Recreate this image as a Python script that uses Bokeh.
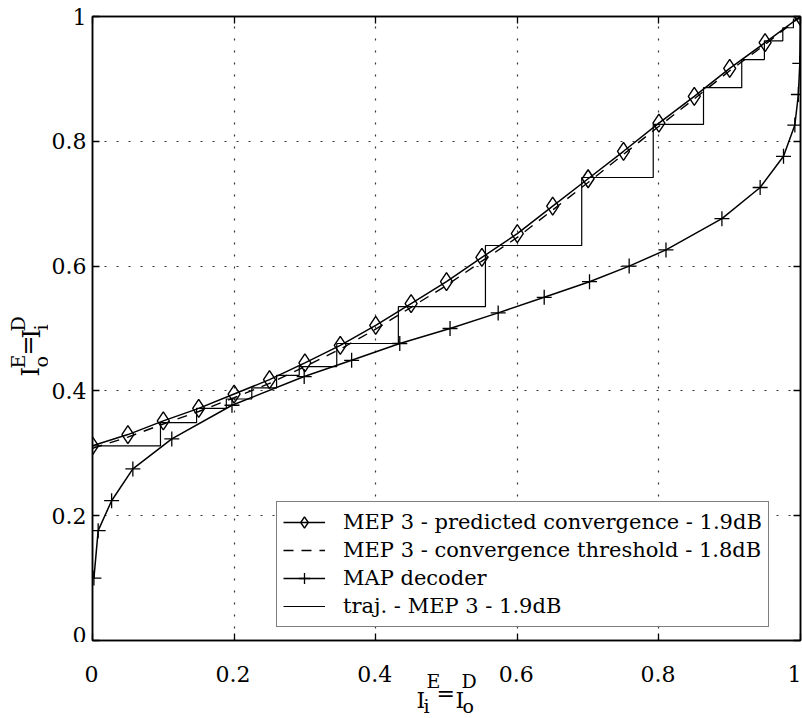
import math
from bokeh.plotting import figure
from bokeh.layouts import row, column
from bokeh.models import (Range1d, FixedTicker, LinearAxis, Legend, LegendItem,
                          CustomJSTickFormatter)
from bokeh.core.properties import value
from bokeh.embed import file_html
from bokeh.resources import INLINE

# ---------------- data ----------------
tick_values = [0, 0.2, 0.4, 0.6, 0.8, 1]
tick_labels = ["0", "0.2", "0.4", "0.6", "0.8", "1"]

# MEP 3 - predicted convergence - 1.9dB (diamonds)
mep_x = [0.0, 0.05, 0.1, 0.15, 0.2, 0.25, 0.3, 0.35, 0.4, 0.45, 0.5,
         0.55, 0.6, 0.65, 0.7, 0.75, 0.8, 0.85, 0.9, 0.95, 1.0]
mep_pred_y = [0.312, 0.330, 0.352, 0.372, 0.395, 0.418, 0.445, 0.473, 0.505, 0.540, 0.575,
              0.614, 0.652, 0.696, 0.740, 0.784, 0.829, 0.872, 0.917, 0.958, 1.0]
# MEP 3 - convergence threshold - 1.8dB (dashed)
mep_thr_y = [0.308, 0.326, 0.347, 0.367, 0.389, 0.412, 0.439, 0.467, 0.499, 0.534, 0.569,
             0.608, 0.646, 0.690, 0.734, 0.779, 0.824, 0.868, 0.913, 0.955, 1.0]

# MAP decoder (+)
map_x = [0.002, 0.008, 0.027, 0.057, 0.112, 0.197, 0.299, 0.366, 0.434, 0.505, 0.573,
         0.638, 0.702, 0.758, 0.810, 0.889, 0.943, 0.976, 0.992, 0.997, 0.999, 1.0]
map_y = [0.100, 0.176, 0.224, 0.275, 0.323, 0.377, 0.423, 0.449, 0.476, 0.500, 0.525,
         0.550, 0.575, 0.600, 0.626, 0.676, 0.726, 0.776, 0.826, 0.875, 0.925, 1.0]

# trajectory - MEP 3 - 1.9dB (staircase corners)
traj_x = [0.0, 0.096, 0.096, 0.147, 0.147, 0.189, 0.189, 0.225, 0.225, 0.26, 0.26,
          0.292, 0.292, 0.345, 0.345, 0.432, 0.432, 0.555, 0.555, 0.691, 0.691,
          0.792, 0.792, 0.863, 0.863, 0.917, 0.917, 0.949, 0.949, 0.975, 0.975,
          0.99, 0.99, 1.0]
traj_y = [0.312, 0.312, 0.349, 0.349, 0.372, 0.372, 0.387, 0.387, 0.405, 0.405, 0.425,
          0.425, 0.439, 0.439, 0.476, 0.476, 0.535, 0.535, 0.633, 0.633, 0.742,
          0.742, 0.827, 0.827, 0.886, 0.886, 0.931, 0.931, 0.961, 0.961, 0.982,
          0.982, 0.996, 0.996]

legend_labels = ["MEP 3 - predicted convergence - 1.9dB",
                 "MEP 3 - convergence threshold - 1.8dB",
                 "MAP decoder",
                 "traj. - MEP 3 - 1.9dB"]

FONT = "DejaVu Serif"

# ---------------- layout geometry (pixels) ----------------
FRAME_W, FRAME_H = 708, 624
YLAB_W = 48              # strip holding the rotated y label
MAIN_LEFT = 43           # room for y tick labels
MAIN_TOP, MAIN_RIGHT, MAIN_BOTTOM = 16, 3, 2
MAIN_H = MAIN_TOP + FRAME_H + MAIN_BOTTOM
TOTAL_W = YLAB_W + MAIN_LEFT + FRAME_W + MAIN_RIGHT
XLAB_H = 718 - MAIN_H
FRAME_LEFT_PX = YLAB_W + MAIN_LEFT

# ---------------- main figure ----------------
p = figure(frame_width=FRAME_W, frame_height=FRAME_H,
           x_range=Range1d(0, 1), y_range=Range1d(0, 1),
           output_backend="svg", toolbar_location=None,
           min_border_left=MAIN_LEFT, min_border_top=MAIN_TOP,
           min_border_right=MAIN_RIGHT, min_border_bottom=MAIN_BOTTOM)
p.background_fill_color = "white"
p.border_fill_color = "white"
p.outline_line_color = "black"
p.outline_line_width = 1.5

p.add_layout(LinearAxis(), "above")
p.add_layout(LinearAxis(), "right")

overrides = {v: s for v, s in zip(tick_values, tick_labels)}
for ax in p.xaxis + p.yaxis:
    ax.ticker = FixedTicker(ticks=tick_values)
    ax.minor_tick_line_color = None
    ax.major_tick_in = 7
    ax.major_tick_out = 0
    ax.major_tick_line_color = "black"
    ax.major_tick_line_width = 1.3
    ax.axis_line_color = "black"
    ax.axis_line_width = 1.5
    ax.major_label_text_font = FONT
    ax.major_label_text_color = "black"

ly = p.left[0]
ly.major_label_overrides = overrides
ly.major_label_text_font_size = "22px"
ly.major_label_standoff = 6

for ax in [p.above[0], p.right[0], p.below[0]]:
    ax.formatter = CustomJSTickFormatter(code="return ''")
    ax.major_label_text_font_size = "0px"
    ax.major_label_standoff = 0

p.xgrid.ticker = FixedTicker(ticks=tick_values)
p.ygrid.ticker = FixedTicker(ticks=tick_values)
p.grid.grid_line_color = "black"
p.grid.grid_line_alpha = 0.8
p.grid.grid_line_width = 1.2
p.grid.grid_line_dash = "2 10"

r_traj = p.line(traj_x, traj_y, line_color="black", line_width=1.2)
r_map_l = p.line(map_x, map_y, line_color="black", line_width=1.5)
r_map_m = p.scatter(map_x, map_y, marker="cross", size=15, line_color="black",
                    line_width=1.3)
r_thr = p.line(mep_x, mep_thr_y, line_color="black", line_width=1.4, line_dash="10 8")
r_pred_l = p.line(mep_x, mep_pred_y, line_color="black", line_width=1.5)
r_pred_m = p.scatter(mep_x, mep_pred_y, marker="diamond", size=18, line_color="black",
                     fill_alpha=0, line_width=1.4)

legend = Legend(items=[
    LegendItem(label=legend_labels[0], renderers=[r_pred_l, r_pred_m]),
    LegendItem(label=legend_labels[1], renderers=[r_thr]),
    LegendItem(label=legend_labels[2], renderers=[r_map_l, r_map_m]),
    LegendItem(label=legend_labels[3], renderers=[r_traj]),
], location=(184, 13))
legend.label_text_font = FONT
legend.label_text_font_size = "21px"
legend.label_text_color = "black"
legend.glyph_width = 42
legend.glyph_height = 28
legend.label_height = 28
legend.label_standoff = 18
legend.spacing = 0
legend.padding = 6
legend.margin = 0
legend.border_line_color = "black"
legend.border_line_width = 1.3
legend.background_fill_alpha = 1
p.add_layout(legend, "center")

# ---------------- y label strip: I_o^E = I_i^D (rotated) ----------------
ylab = figure(frame_width=YLAB_W, frame_height=MAIN_H,
              x_range=Range1d(0, YLAB_W), y_range=Range1d(0, MAIN_H),
              output_backend="svg", toolbar_location=None,
              x_axis_type=None, y_axis_type=None,
              min_border_left=0, min_border_right=0, min_border_top=0, min_border_bottom=0)
ylab.outline_line_color = None
ylab.grid.visible = False
ylab.background_fill_color = "white"
ylab.border_fill_color = "white"

MAIN_SZ, SMALL_SZ = "24px", "19px"
A = math.pi / 2
# (text, baseline x px, start y px from top, size)
ypieces = [("I", 30, 360, MAIN_SZ), ("E", 17, 352, SMALL_SZ), ("o", 40, 351, SMALL_SZ),
           ("=", 27, 339, MAIN_SZ), ("I", 31, 322, MAIN_SZ), ("D", 17, 315, SMALL_SZ),
           ("i", 40, 314, SMALL_SZ)]
for t, bx, sy, sz in ypieces:
    ylab.text(x=[bx], y=[MAIN_H - sy], text=[t], angle=A,
              text_font=value(FONT), text_font_size=value(sz), text_color="black",
              text_align="left", text_baseline="alphabetic")

# ---------------- x strip: tick labels + I_i^E = I_o^D ----------------
xlab = figure(frame_width=TOTAL_W, frame_height=XLAB_H,
              x_range=Range1d(-FRAME_LEFT_PX / FRAME_W, 1 + (TOTAL_W - FRAME_LEFT_PX - FRAME_W) / FRAME_W),
              y_range=Range1d(0, XLAB_H),
              output_backend="svg", toolbar_location=None,
              x_axis_type=None, y_axis_type=None,
              min_border_left=0, min_border_right=0, min_border_top=0, min_border_bottom=0)
xlab.outline_line_color = None
xlab.grid.visible = False
xlab.background_fill_color = "white"
xlab.border_fill_color = "white"

def px2x(px):
    return (px - FRAME_LEFT_PX) / FRAME_W

def py2y(py):
    return 718 - py

tick_nudge = [0, 0, 0, 0, 0, -5]   # keep the last label inside the canvas
xlab.text(x=tick_values, y=[py2y(673)] * len(tick_values), text=tick_labels,
          x_offset=tick_nudge,
          text_font=value(FONT), text_font_size=value("22px"), text_color="black",
          text_align="center", text_baseline="alphabetic")

XM, XS = "22px", "19px"
xpieces = [("I", 416, 700, XM), ("E", 426, 680, XS), ("i", 423, 705, XS),
           ("=", 436, 693, XM), ("I", 455, 700, XM), ("D", 461, 680, XS),
           ("o", 462, 705, XS)]
for t, sx, by, sz in xpieces:
    xlab.text(x=[px2x(sx)], y=[py2y(by)], text=[t],
              text_font=value(FONT), text_font_size=value(sz), text_color="black",
              text_align="left", text_baseline="alphabetic")

layout = column(row(ylab, p), xlab)
open("out.html", "w").write(file_html(layout, INLINE))
